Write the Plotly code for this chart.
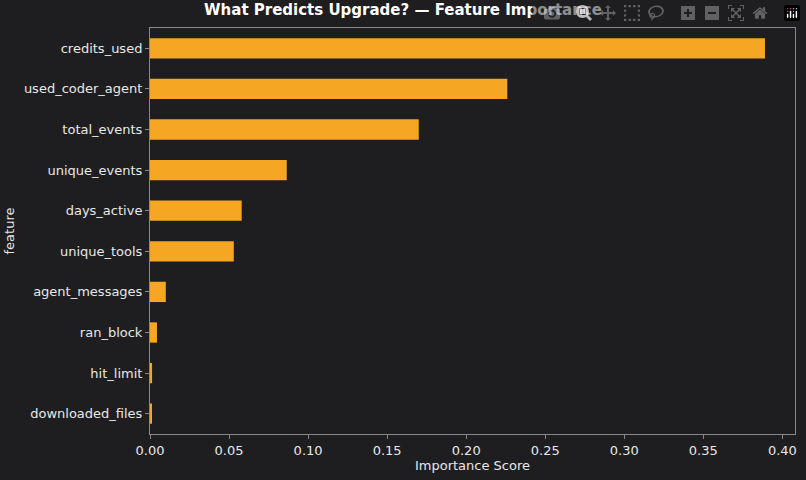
import plotly.graph_objects as go

features = ["credits_used","used_coder_agent","total_events","unique_events","days_active",
            "unique_tools","agent_messages","ran_block","hit_limit","downloaded_files"]
importance = [0.389,0.226,0.170,0.0865,0.058,0.053,0.010,0.0044,0.0013,0.0012]

fig = go.Figure(go.Bar(x=importance, y=features, orientation="h", width=0.5,
                       marker=dict(color="#f5a623", line=dict(width=0))))
fig.update_layout(
    width=806, height=480, paper_bgcolor="#1e1e20", plot_bgcolor="#1e1e20",
    font=dict(family="DejaVu Sans", color="#e8e8e8", size=13),
    title=dict(text="<b>What Predicts Upgrade? — Feature Importance</b>", x=0.5, xanchor="center",
               y=0.99, yanchor="top", font=dict(size=15, color="white")),
    margin=dict(l=146, r=9, t=28, b=46),
    showlegend=False,
)
fig.update_xaxes(range=[0, 0.408], tickvals=[0,0.05,0.1,0.15,0.2,0.25,0.3,0.35,0.4],
                 tickformat=".2f", showgrid=False, zeroline=False, showline=True, mirror=True,
                 linecolor="#888", ticks="outside", tickcolor="#888", ticklen=4,
                 title=dict(text="Importance Score", standoff=4, font=dict(size=13)))
fig.update_yaxes(categoryorder="array", categoryarray=features[::-1], range=[-0.5, 9.5],
                 showgrid=False, zeroline=False, showline=True, mirror=True,
                 linecolor="#888", ticks="outside", tickcolor="#888", ticklen=4,
                 title=dict(text="feature", standoff=6, font=dict(size=13)))
fig.write_html("out.html")
with open("out.html", encoding="utf-8") as f:
    html = f.read()
html = html.replace("<head>", "<head><style>html,body{margin:0;padding:0;background:#1e1e20;overflow:hidden}</style>", 1)
with open("out.html", "w", encoding="utf-8") as f:
    f.write(html)
